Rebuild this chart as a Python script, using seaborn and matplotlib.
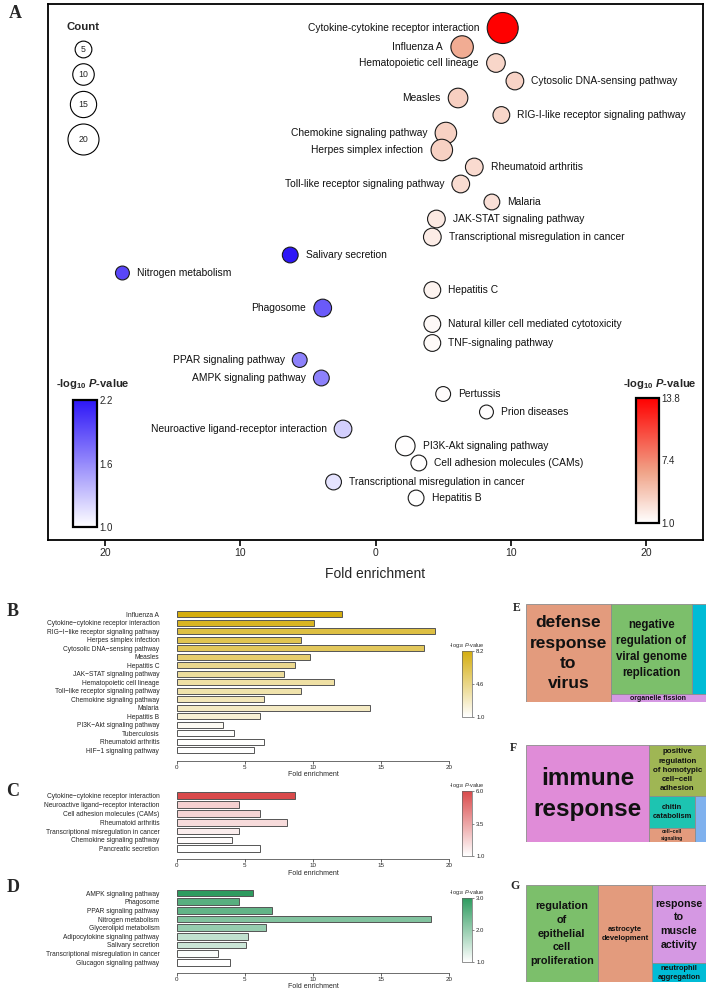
import numpy as np
import pandas as pd
import matplotlib
matplotlib.use('Agg')
import matplotlib.pyplot as plt
import seaborn as sns
from matplotlib.colors import LinearSegmentedColormap, Normalize
from matplotlib.cm import ScalarMappable
from matplotlib.patches import Rectangle

# ---- Panel A : KEGG bubbles (red = up, blue = down) ----
up_terms = ['Cytokine-cytokine receptor interaction', 'Influenza A', 'Hematopoietic cell lineage',
            'Cytosolic DNA-sensing pathway', 'Measles', 'RIG-I-like receptor signaling pathway',
            'Chemokine signaling pathway', 'Herpes simplex infection', 'Rheumatoid arthritis',
            'Toll-like receptor signaling pathway', 'Malaria', 'JAK-STAT signaling pathway',
            'Transcriptional misregulation in cancer', 'Hepatitis C',
            'Natural killer cell mediated cytotoxicity', 'TNF-signaling pathway', 'Pertussis',
            'Prion diseases', 'PI3K-Akt signaling pathway', 'Cell adhesion molecules (CAMs)',
            'Hepatitis B']
up_fold = [9.4, 6.4, 8.9, 10.3, 6.1, 9.3, 5.2, 4.9, 7.3, 6.3, 8.6, 4.5, 4.2, 4.2, 4.2, 4.2,
           5.0, 8.2, 2.2, 3.2, 3.0]
up_count = [20, 11, 7, 6, 8, 5, 10, 10, 6, 6, 4, 6, 6, 5, 5, 5, 3, 2, 8, 4, 4]
up_logp = [13.8, 5.7, 3.4, 3.5, 3.7, 3.4, 3.6, 3.6, 3.1, 3.0, 2.8, 2.3, 2.1, 1.7, 1.4, 1.3,
           1.2, 1.1, 1.05, 1.05, 1.0]
up_row = [28, 47, 63, 81, 98, 115, 133, 150, 167, 184, 202, 219, 237, 290, 324, 343, 394,
          412, 446, 463, 498]

down_terms = ['Salivary secretion', 'Nitrogen metabolism', 'Phagosome', 'PPAR signaling pathway',
              'AMPK signaling pathway', 'Neuroactive ligand-receptor interaction',
              'Transcriptional misregulation in cancer']
down_fold = [6.3, 18.7, 3.9, 5.6, 4.0, 2.4, 3.1]
down_count = [4, 2, 6, 3, 4, 6, 4]
down_logp = [2.2, 1.95, 1.85, 1.65, 1.65, 1.25, 1.15]
down_row = [255, 273, 308, 360, 378, 429, 482]

label_left = {'Cytokine-cytokine receptor interaction', 'Influenza A', 'Hematopoietic cell lineage',
              'Measles', 'Chemokine signaling pathway', 'Herpes simplex infection',
              'Toll-like receptor signaling pathway', 'Phagosome', 'PPAR signaling pathway',
              'AMPK signaling pathway', 'Neuroactive ligand-receptor interaction'}
count_legend = [5, 10, 15, 20]

# ---- Panels B-D : bar charts ----
b_terms = ['Influenza A', 'Cytokine\u2212cytokine receptor interaction',
           'RIG\u2212I\u2212like receptor signaling pathway', 'Herpes simplex infection',
           'Cytosolic DNA\u2212sensing pathway', 'Measles', 'Hepatitis C',
           'JAK\u2212STAT signaling pathway', 'Hematopoietic cell lineage',
           'Toll\u2212like receptor signaling pathway', 'Chemokine signaling pathway', 'Malaria',
           'Hepatitis B', 'PI3K\u2212Akt signaling pathway', 'Tuberculosis', 'Rheumatoid arthritis',
           'HIF\u22121 signaling pathway']
b_fold = [12.15, 10.1, 18.97, 9.12, 18.15, 9.78, 8.7, 7.9, 11.52, 9.14, 6.38, 14.18, 6.11,
          3.37, 4.23, 6.43, 5.7]
b_logp = [8.2, 7.6, 6.6, 6.2, 5.9, 5.4, 4.4, 4.0, 3.7, 3.5, 3.1, 2.8, 2.3, 1.4, 1.1, 1.05, 1.0]

c_terms = ['Cytokine\u2212cytokine receptor interaction', 'Neuroactive ligand\u2212receptor interaction',
           'Cell adhesion molecules (CAMs)', 'Rheumatoid arthritis',
           'Transcriptional misregulation in cancer', 'Chemokine signaling pathway',
           'Pancreatic secretion']
c_fold = [8.7, 4.6, 6.13, 8.11, 4.6, 4.06, 6.13]
c_logp = [6.0, 2.3, 2.2, 2.0, 1.5, 1.1, 1.0]

d_terms = ['AMPK signaling pathway', 'Phagosome', 'PPAR signaling pathway', 'Nitrogen metabolism',
           'Glycerolipid metabolism', 'Adipocytokine signaling pathway', 'Salivary secretion',
           'Transcriptional misregulation in cancer', 'Glucagon signaling pathway']
d_fold = [5.6, 4.57, 6.97, 18.68, 6.57, 5.25, 5.06, 3.05, 3.93]
d_logp = [3.0, 2.6, 2.5, 2.2, 2.0, 1.6, 1.5, 1.05, 1.0]

# ---- Panels E-G : REVIGO treemaps ----
e_terms = ['defense\nresponse\nto\nvirus', 'negative\nregulation of\nviral genome\nreplication', '',
           'organelle fission']
e_size = [8300, 7290, 1260, 760]
e_nest = [0, [[1, 2], 3]]

f_terms = ['immune\nresponse', 'positive\nregulation\nof homotypic\ncell\u2212cell\nadhesion',
           'chitin\ncatabolism', 'cell\u2212cell\nsignaling', '']
f_size = [12000, 2860, 1480, 636, 513]
f_nest = [0, [1, [[2, 3], 4]]]

g_terms = ['regulation\nof\nepithelial\ncell\nproliferation', 'astrocyte\ndevelopment',
           'response\nto\nmuscle\nactivity', 'neutrophil\naggregation']
g_size = [6976, 5313, 4181, 1015]
g_nest = [0, 1, [2, 3]]

# styles
e_col = ['#E39B7D', '#7CBF6B', '#00BCD6', '#D598E3']
e_fs = [12.5, 8.3, 1, 5.0]
f_col = ['#E08CD8', '#9FB654', '#1DC4B1', '#E39B7D', '#7FB1EE']
f_fs = [17.5, 5.7, 5.4, 3.6, 1]
g_col = ['#7CBF6B', '#E39B7D', '#D598E3', '#00BCD6']
g_fs = [7.8, 5.5, 7.7, 5.4]

sns.set_style('white')
plt.rcParams['font.family'] = ['Liberation Sans', 'DejaVu Sans']
plt.rcParams['mathtext.fontset'] = 'custom'
plt.rcParams['mathtext.rm'] = 'Liberation Sans'
plt.rcParams['mathtext.it'] = 'Liberation Sans:italic'
plt.rcParams['mathtext.bf'] = 'Liberation Sans:bold'
plt.rcParams['mathtext.bfit'] = 'Liberation Sans:bold:italic'

W, H = 708, 991
fig = plt.figure(figsize=(W / 100, H / 100), dpi=100)


def px_rect(x0, y0, x1, y1):
    return [x0 / W, 1 - y1 / H, (x1 - x0) / W, (y1 - y0) / H]


def bubble_area(c):
    return (0.72 * (12 + 0.95 * c)) ** 2


def bubble_rad(c):
    return 0.36 * (12 + 0.95 * c)


red_cmap = LinearSegmentedColormap.from_list('wr', [(0, '#FFFFFF'), (0.4, '#F0A58A'),
                                                    (1, '#FF0000')])
blue_cmap = LinearSegmentedColormap.from_list('wb', ['#FFFFFF', '#2D16F7'])
size_map = {c: bubble_area(c) for c in set(up_count + down_count + count_legend)}

up = pd.DataFrame({'term': up_terms, 'fold': up_fold, 'count': up_count,
                   'logp': up_logp, 'row': up_row})
down = pd.DataFrame({'term': down_terms, 'fold': [-v for v in down_fold], 'count': down_count,
                     'logp': down_logp, 'row': down_row})

axA = fig.add_axes(px_rect(48, 4, 703, 540))
sns.scatterplot(data=up, x='fold', y='row', hue='logp', palette=red_cmap,
                hue_norm=Normalize(1.0, 13.8), size='count', sizes=size_map,
                edgecolor='#1a1a1a', linewidth=0.8, legend=False, ax=axA, zorder=3)
sns.scatterplot(data=down, x='fold', y='row', hue='logp', palette=blue_cmap,
                hue_norm=Normalize(1.0, 2.2), size='count', sizes=size_map,
                edgecolor='#1a1a1a', linewidth=0.8, legend=False, ax=axA, zorder=3)

for df in (up, down):
    for _, r in df.iterrows():
        off = bubble_rad(r['count']) + 5.5
        left = r['term'] in label_left
        axA.annotate(r['term'], (r['fold'], r['row']), xytext=(-off if left else off, 0),
                     textcoords='offset points', ha='right' if left else 'left', va='center',
                     fontsize=7.4, color='#111111')

axA.set_xlim(-24.2, 24.2)
axA.set_ylim(540, 4)
axA.set_xticks([-20, -10, 0, 10, 20])
axA.set_xticklabels(['20', '10', '0', '10', '20'])
axA.set_yticks([])
axA.set_xlabel('Fold enrichment', fontsize=10, labelpad=6)
axA.set_ylabel('')
for s in axA.spines.values():
    s.set_linewidth(1.3)
    s.set_color('black')
axA.tick_params(axis='x', direction='out', length=4, width=1.4, labelsize=7.5, pad=2,
                bottom=True)

# count legend
axA.text(0.0534, 0.957, 'Count', transform=axA.transAxes, ha='center', va='center',
         fontsize=8.2, fontweight='bold')
for c, yy in zip(count_legend, [0.916, 0.869, 0.813, 0.748]):
    axA.scatter([0.0534], [yy], s=bubble_area(c), transform=axA.transAxes, facecolor='white',
                edgecolor='black', linewidth=0.8, zorder=3)
    axA.text(0.0534, yy, str(c), transform=axA.transAxes, ha='center', va='center',
             fontsize=6.3, zorder=4)

ptitle = r'-log$_{\mathbf{10}}$ $\mathbfit{P}$-value'
for rect, cmap, vmax, ticks, tx in [((73, 400, 97, 527), blue_cmap, 2.2, [1.0, 1.6, 2.2], 93),
                                    ((636, 398, 659, 523), red_cmap, 13.8, [1.0, 7.4, 13.8], 660)]:
    cax = fig.add_axes(px_rect(*rect))
    cb = fig.colorbar(ScalarMappable(Normalize(1.0, vmax), cmap), cax=cax, ticks=ticks)
    cb.ax.set_yticklabels([f'{t:.1f}' for t in ticks])
    cb.ax.tick_params(length=0, labelsize=7, pad=2)
    cb.outline.set_linewidth(1.6)
    cb.outline.set_edgecolor('black')
    fig.text(tx / W, 1 - 384 / H, ptitle, ha='center', va='center', fontsize=8,
             fontweight='bold')


# ---- bar panels ----
def bar_panel(top, bottom, terms, fold, logp, cmap, vmax, cticks, crect):
    ax = fig.add_axes(px_rect(176.7, top, 449.3, bottom))
    norm = Normalize(1.0, vmax)
    colors = [cmap(norm(v)) for v in logp]
    sns.barplot(x=fold, y=terms, hue=terms, palette=colors, legend=False, orient='h',
                width=0.75, saturation=1, edgecolor='#555555', linewidth=0.7, ax=ax)
    n = len(terms)
    ax.set_xlim(0, 20)
    ax.set_ylim(n - 1 + 1.2, -0.5)
    ax.set_xticks([0, 5, 10, 15, 20])
    ax.set_xlabel('Fold enrichment', fontsize=5, labelpad=1)
    ax.set_ylabel('')
    for k in ('left', 'top', 'right'):
        ax.spines[k].set_visible(False)
    ax.spines['bottom'].set_linewidth(0.5)
    ax.spines['bottom'].set_color('#333333')
    ax.tick_params(axis='x', direction='out', length=2, width=0.5, labelsize=4.5, pad=1,
                   bottom=True)
    ax.tick_params(axis='y', length=0, labelsize=4.8, pad=12.5)
    cax = fig.add_axes(px_rect(*crect))
    cb = fig.colorbar(ScalarMappable(norm, cmap), cax=cax, ticks=cticks)
    cb.ax.set_yticklabels([f'{t:.1f}' for t in cticks])
    cb.ax.tick_params(length=1.5, width=0.4, labelsize=4.3, pad=1.5)
    cb.outline.set_linewidth(0.5)
    cb.outline.set_edgecolor('#666666')
    cax.set_title(r'-log$_{10}$ $\it{P}$-value', fontsize=4, pad=3)
    return ax


gold_cmap = LinearSegmentedColormap.from_list('wg', ['#FFFFFF', '#D4AD0E'])
rose_cmap = LinearSegmentedColormap.from_list('wr2', ['#FFFFFF', '#D94A4B'])
green_cmap = LinearSegmentedColormap.from_list('wgr', ['#FFFFFF', '#2E9B5F'])

bar_panel(610, 760.5, b_terms, b_fold, b_logp, gold_cmap, 8.2, [1.0, 4.6, 8.2],
          (462, 651, 472, 717))
bar_panel(791.3, 859.3, c_terms, c_fold, c_logp, rose_cmap, 6.0, [1.0, 3.5, 6.0],
          (462, 791, 472, 856))
bar_panel(888.7, 972.7, d_terms, d_fold, d_logp, green_cmap, 3.0, [1.0, 2.0, 3.0],
          (462, 898, 472, 962))


# ---- treemaps ----
def node_total(node, sizes):
    if isinstance(node, int):
        return sizes[node]
    return sum(node_total(ch, sizes) for ch in node)


def treemap(ax, node, x0, y0, w, h, horiz, terms, sizes, cols, fss):
    if isinstance(node, int):
        ax.add_patch(Rectangle((x0, y0), w, h, facecolor=cols[node], edgecolor='#8c8c8c',
                               linewidth=0.6))
        if terms[node]:
            ax.text(x0 + w / 2, y0 + h / 2, terms[node], ha='center', va='center',
                    fontsize=fss[node], fontweight='bold', linespacing=1.45, color='#111111')
        return
    tot = node_total(node, sizes)
    pos = 0.0
    for ch in node:
        frac = node_total(ch, sizes) / tot
        if horiz:
            treemap(ax, ch, x0 + pos * w, y0, frac * w, h, False, terms, sizes, cols, fss)
        else:
            treemap(ax, ch, x0, y0 + pos * h, w, frac * h, True, terms, sizes, cols, fss)
        pos += frac


for (top, bottom), terms, sizes, nest, cols, fss in [
        ((604.3, 702.3), e_terms, e_size, e_nest, e_col, e_fs),
        ((745, 842.3), f_terms, f_size, f_nest, f_col, f_fs),
        ((885, 982.3), g_terms, g_size, g_nest, g_col, g_fs)]:
    ax = fig.add_axes(px_rect(526, top, 705.7, bottom))
    ax.set_xlim(0, 1)
    ax.set_ylim(1, 0)
    ax.axis('off')
    treemap(ax, nest, 0, 0, 1, 1, True, terms, sizes, cols, fss)

# panel letters
for lab, x, y, fs in [('A', 15, 14, 13), ('B', 13, 611, 13), ('C', 13, 791, 13),
                      ('D', 13, 888, 13), ('E', 517, 608, 8.5), ('F', 513, 748, 8.5),
                      ('G', 515, 886, 8.5)]:
    fig.text(x / W, 1 - y / H, lab, fontsize=fs, fontweight='bold', family='Liberation Serif',
             ha='center', va='center')

fig.savefig('out.png', dpi=100)
